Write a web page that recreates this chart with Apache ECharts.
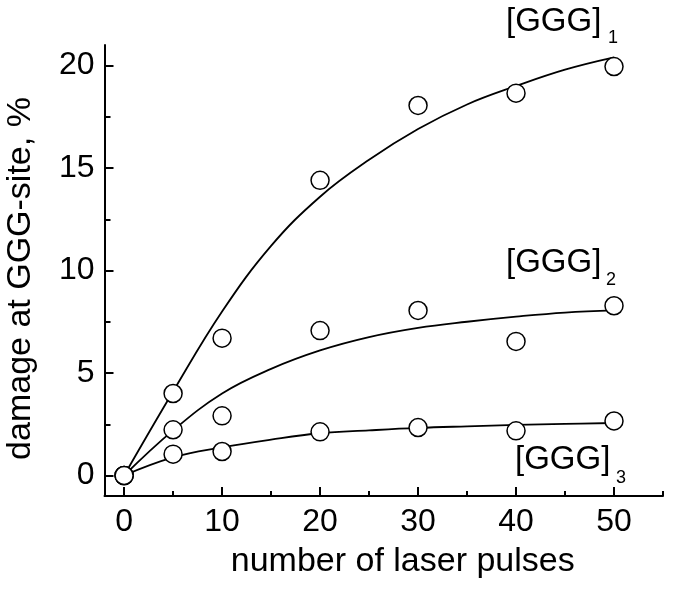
<!DOCTYPE html>
<html>
<head>
<meta charset="utf-8">
<script src="https://cdn.jsdelivr.net/npm/echarts@6/dist/echarts.min.js"></script>
<style>
  html, body { margin: 0; padding: 0; background: #fff; }
  #chart { width: 674px; height: 589px; }
</style>
</head>
<body>
<div id="chart"></div>
<script>
// measured points
const pulses = [0, 5, 10, 20, 30, 40, 50];
const ggg1 = [0, 4.0, 6.7, 14.4, 18.05, 18.65, 19.95];
const ggg2 = [0, 2.23, 2.91, 7.07, 8.05, 6.54, 8.28];
const ggg3 = [0, 1.04, 1.17, 2.13, 2.34, 2.18, 2.66];

// fitted curves
const fitX = [0, 5, 10, 15, 20, 25, 30, 35, 40, 45, 50];
const fit1 = [0, 4.1, 8.0, 11.2, 13.6, 15.4, 16.9, 18.1, 19.0, 19.8, 20.4];
const fit2 = [0, 2.2, 4.0, 5.2, 6.1, 6.75, 7.2, 7.5, 7.75, 7.95, 8.05];
const fit3 = [0, 0.88, 1.37, 1.75, 2.06, 2.2, 2.32, 2.4, 2.47, 2.52, 2.56];

// axis ticks
const xTicks = [0, 10, 20, 30, 40, 50];
const xMinorTicks = [5, 15, 25, 35, 45, 55];
const yTicks = [0, 5, 10, 15, 20];
const yMinorTicks = [2.5, 7.5, 12.5, 17.5];

const font = 'Liberation Sans, Arial, sans-serif';
const pair = (xs, ys) => xs.map((x, i) => [x, ys[i]]);

const chart = echarts.init(document.getElementById('chart'), null, { renderer: 'canvas' });

const lineSeries = (data) => ({
  type: 'line',
  data: data,
  smooth: 0.4,
  symbol: 'none',
  lineStyle: { color: '#000', width: 1.8 },
  z: 2
});
const dotSeries = (data) => ({
  type: 'scatter',
  data: data,
  symbol: 'circle',
  symbolSize: 18,
  itemStyle: { color: '#fff', borderColor: '#000', borderWidth: 1.5, opacity: 1 },
  z: 3
});

chart.setOption({
  animation: false,
  backgroundColor: '#fff',
  grid: { left: 104.5, right: 11, top: 45, bottom: 93, outerBoundsMode: 'none' },
  xAxis: [{
    type: 'value', min: -2, max: 55, position: 'bottom',
    axisLine: { show: true, onZero: false, lineStyle: { color: '#000', width: 2 } },
    axisTick: { show: true, inside: true, length: 9, customValues: xTicks, lineStyle: { color: '#000', width: 2 } },
    axisLabel: { customValues: xTicks, color: '#000', fontSize: 32, fontFamily: font, margin: 10 },
    splitLine: { show: false },
    name: 'number of laser pulses', nameLocation: 'middle', nameGap: 49,
    nameTextStyle: { color: '#000', fontSize: 34, fontFamily: font, padding: [0, 0, 0, 38] }
  }, {
    type: 'value', min: -2, max: 55, position: 'bottom',
    axisLine: { show: false, onZero: false },
    axisTick: { show: true, inside: true, length: 5, customValues: xMinorTicks, lineStyle: { color: '#000', width: 2 } },
    axisLabel: { show: false },
    splitLine: { show: false }
  }],
  yAxis: [{
    type: 'value', min: -1, max: 21, position: 'left',
    axisLine: { show: true, onZero: false, lineStyle: { color: '#000', width: 2 } },
    axisTick: { show: true, inside: true, length: 9, customValues: yTicks, lineStyle: { color: '#000', width: 2 } },
    axisLabel: { customValues: yTicks, color: '#000', fontSize: 32, fontFamily: font, margin: 10 },
    splitLine: { show: false },
    name: 'damage at GGG-site, %', nameLocation: 'middle', nameGap: 67,
    nameTextStyle: { color: '#000', fontSize: 34, fontFamily: font, padding: [0, 16, 0, 0] }
  }, {
    type: 'value', min: -1, max: 21, position: 'left',
    axisLine: { show: false, onZero: false },
    axisTick: { show: true, inside: true, length: 6, customValues: yMinorTicks, lineStyle: { color: '#000', width: 2 } },
    axisLabel: { show: false },
    splitLine: { show: false }
  }],
  series: [
    lineSeries(pair(fitX, fit1)),
    lineSeries(pair(fitX, fit2)),
    lineSeries(pair(fitX, fit3)),
    dotSeries(pair(pulses, ggg1)),
    dotSeries(pair(pulses, ggg2)),
    dotSeries(pair(pulses, ggg3))
  ],
  graphic: [
    { type: 'text', left: 506, top: 5, style: { text: '[GGG]', font: '33px ' + font, fill: '#000' } },
    { type: 'text', left: 608, top: 29, style: { text: '1', font: '18px ' + font, fill: '#000' } },
    { type: 'text', left: 506, top: 246, style: { text: '[GGG]', font: '33px ' + font, fill: '#000' } },
    { type: 'text', left: 606, top: 271, style: { text: '2', font: '18px ' + font, fill: '#000' } },
    { type: 'text', left: 515, top: 443, style: { text: '[GGG]', font: '33px ' + font, fill: '#000' } },
    { type: 'text', left: 616, top: 469, style: { text: '3', font: '18px ' + font, fill: '#000' } }
  ]
});
</script>
</body>
</html>
